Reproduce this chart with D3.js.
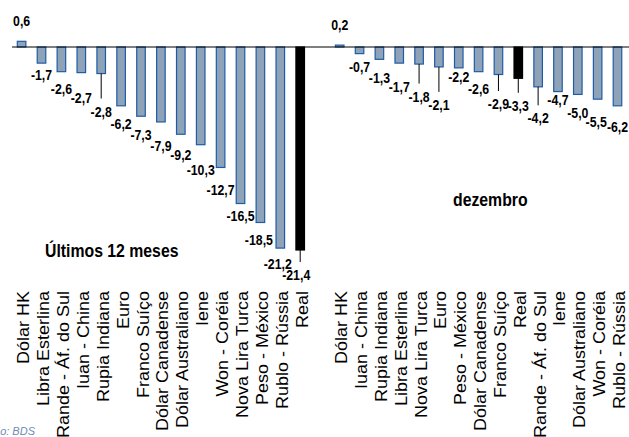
<!DOCTYPE html>
<html>
<head>
<meta charset="utf-8">
<script src="https://cdn.jsdelivr.net/npm/d3@7"></script>
<style>
  body { margin: 0; background: #fff; }
  svg { display: block; }
</style>
</head>
<body>
<svg id="chart" width="629" height="437"></svg>
<script>
// Variação das moedas frente ao dólar (%) — últimos 12 meses
const catsYear = ["Dólar HK", "Libra Esterlina", "Rande - Áf. do Sul", "Iuan - China", "Rupia Indiana",
  "Euro", "Franco Suíço", "Dólar Canadense", "Dólar Australiano", "Iene", "Won - Coréia",
  "Nova Lira Turca", "Peso - México", "Rublo - Rússia", "Real"];
const valsYear = [0.6, -1.7, -2.6, -2.7, -2.8, -6.2, -7.3, -7.9, -9.2, -10.3, -12.7, -16.5, -18.5, -21.2, -21.4];

// Variação no mês de dezembro (%)
const catsDec = ["Dólar HK", "Iuan - China", "Rupia Indiana", "Libra Esterlina", "Nova Lira Turca",
  "Euro", "Peso - México", "Dólar Canadense", "Franco Suíço", "Real", "Rande - Áf. do Sul",
  "Iene", "Dólar Australiano", "Won - Coréia", "Rublo - Rússia"];
const valsDec = [0.2, -0.7, -1.3, -1.7, -1.8, -2.1, -2.2, -2.6, -2.9, -3.3, -4.2, -4.7, -5.0, -5.5, -6.2];

const panelTitles = ["Últimos 12 meses", "dezembro"];
const highlight = "Real";
const sourceText = "Elaboração: BDS";

// Label placement: distance (px) from bar end to label baseline, plus small nudges
const dropYear = [15, 17, 22, 30, 43, 23, 24, 29, 26, 30, 27.5, 17.5, 23, 21, 30];
const dxYear   = [0, 0, 0, 0, 0, 0, 0, 0, 0, 0, 0, 0, -1.5, -2.5, -4];
const leadYear = [4, 14];
const dropDec  = [15, 18, 24, 29, 37.5, 43, 14.5, 22.5, 34.5, 32.5, 36.5, 13.5, 24, 27.5, 26];
const dxDec    = [0, 0, 0, 0, 0, 0, 0, 0, 0, 0, 0, 0, 0, -1.5, 0];
const leadDec  = [4, 5, 8, 9, 10];

const pt = d3.formatLocale({decimal: ",", thousands: ".", grouping: [3], currency: ["R$", ""], minus: "-"});
const fmt = pt.format(".1f");

const svg = d3.select("#chart");
const FONT = "'Liberation Sans', Arial, Helvetica, sans-serif";

// Shared vertical scale for both panels
const y = d3.scaleLinear().domain([0, -21.4]).range([47, 250]);

const panels = [
  {cats: catsYear, vals: valsYear, range: [11.65, 310.15], axis: [12, 320], drop: dropYear, dx: dxYear, lead: leadYear,
   title: {x: 45, y: 256.5}},
  {cats: catsDec, vals: valsDec, range: [329.8, 627.4], axis: [320, 629], drop: dropDec, dx: dxDec, lead: leadDec,
   title: {x: 453, y: 206}}
];

panels.forEach((p, pi) => {
  const x = d3.scaleBand().domain(p.cats).range(p.range).paddingInner(0.57).paddingOuter(0.285);
  const g = svg.append("g");
  const data = p.cats.map((c, i) => ({c, v: p.vals[i], i}));
  const cx = d => x(d.c) + x.bandwidth() / 2;

  // bars
  g.selectAll("rect.bar").data(data).join("rect")
    .attr("class", "bar")
    .attr("x", d => x(d.c))
    .attr("width", x.bandwidth())
    .attr("y", d => Math.min(y(d.v), y(0)))
    .attr("height", d => Math.abs(y(d.v) - y(0)))
    .attr("fill", d => d.c === highlight ? "#000" : "#8ea2b8")
    .attr("stroke", d => d.c === highlight ? "#000" : "#1f5ca6")
    .attr("stroke-width", 1.2);

  // zero line
  g.append("line")
    .attr("x1", p.axis[0]).attr("x2", p.axis[1])
    .attr("y1", y(0)).attr("y2", y(0))
    .attr("stroke", "#000").attr("stroke-width", 1);

  const labelY = d => d.v >= 0 ? y(d.v) - p.drop[d.i] : y(d.v) + p.drop[d.i];

  // leader lines
  g.selectAll("line.lead").data(data.filter(d => p.lead.includes(d.i))).join("line")
    .attr("class", "lead")
    .attr("x1", cx).attr("x2", cx)
    .attr("y1", d => y(d.v))
    .attr("y2", d => labelY(d) - 18)
    .attr("stroke", "#000").attr("stroke-width", 1);

  // value labels
  g.selectAll("text.val").data(data).join("text")
    .attr("class", "val")
    .attr("transform", d => `translate(${cx(d) + p.dx[d.i]},${labelY(d)}) scale(0.88,1)`)
    .attr("text-anchor", "middle")
    .style("font", `bold 14px ${FONT}`)
    .attr("fill", "#000")
    .text(d => fmt(d.v));

  // category labels (rotated)
  g.selectAll("text.cat").data(data).join("text")
    .attr("class", "cat")
    .attr("transform", d => `translate(${cx(d) + 7.5},291) scale(0.88,1) rotate(-90)`)
    .attr("text-anchor", "end")
    .style("font", `18px ${FONT}`)
    .attr("fill", "#000")
    .text(d => d.c);

  // panel title
  g.append("text")
    .attr("transform", `translate(${p.title.x},${p.title.y}) scale(0.85,1)`)
    .style("font", `bold 18.6px ${FONT}`)
    .attr("fill", "#000")
    .text(panelTitles[pi]);
});

// source note
svg.append("text")
  .attr("x", 35).attr("y", 435)
  .attr("text-anchor", "end")
  .style("font", `italic 11px ${FONT}`)
  .attr("fill", "#6d8bb4")
  .text(sourceText);
</script>
</body>
</html>
